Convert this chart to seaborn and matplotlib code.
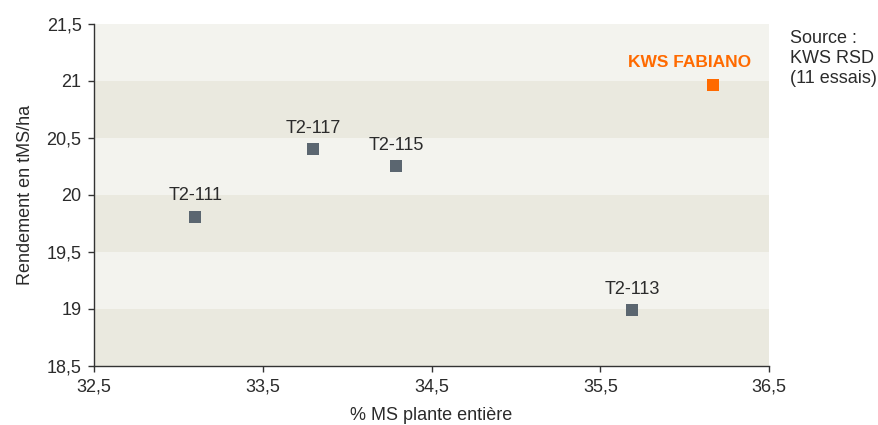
import seaborn as sns
import matplotlib.pyplot as plt
import matplotlib.ticker as mticker
import pandas as pd

# data
varietes = ["T2-111", "T2-117", "T2-115", "T2-113", "KWS FABIANO"]
ms_plante = [33.10, 33.80, 34.29, 35.69, 36.17]
rendement = [19.81, 20.40, 20.25, 18.99, 20.96]
groupe = ["test", "test", "test", "test", "kws"]

df = pd.DataFrame({"variete": varietes, "ms": ms_plante, "rdt": rendement, "groupe": groupe})

sns.set_style("white")
plt.rcParams["font.family"] = ["Liberation Sans", "DejaVu Sans"]

gris = "#5b6670"
orange = "#ff6a00"
texte = "#2b2b2b"

fig = plt.figure(figsize=(8.79, 4.25), dpi=100)
ax = fig.add_axes([0.107, 0.139, 0.768, 0.805])

# alternating horizontal bands
for i, y0 in enumerate([18.5, 19.0, 19.5, 20.0, 20.5, 21.0]):
    ax.axhspan(y0, y0 + 0.5, color="#eae9df" if i % 2 == 0 else "#f3f3ee", lw=0, zorder=0)

sns.scatterplot(data=df, x="ms", y="rdt", hue="groupe", palette={"test": gris, "kws": orange},
                marker="s", s=75, linewidth=0, legend=False, ax=ax, zorder=3)

for _, r in df.iterrows():
    if r["groupe"] == "kws":
        ax.annotate(r["variete"], (r["ms"], r["rdt"]), xytext=(-17, 11), textcoords="offset points",
                    ha="center", va="bottom", fontsize=12.5, color=orange, fontweight="bold")
    else:
        ax.annotate(r["variete"], (r["ms"], r["rdt"]), xytext=(0, 9), textcoords="offset points",
                    ha="center", va="bottom", fontsize=13, color=texte)

ax.set_xlim(32.5, 36.5)
ax.set_ylim(18.5, 21.5)
ax.set_xticks([32.5, 33.5, 34.5, 35.5, 36.5])
ax.set_yticks([18.5, 19, 19.5, 20, 20.5, 21, 21.5])
fmt = mticker.FuncFormatter(lambda v, p: ("%g" % v).replace(".", ","))
ax.xaxis.set_major_formatter(fmt)
ax.yaxis.set_major_formatter(fmt)
ax.tick_params(axis="both", direction="out", length=4, width=1, color="#333333",
               labelsize=13, labelcolor=texte, bottom=True, left=True, pad=5)

for s in ["top", "right"]:
    ax.spines[s].set_visible(False)
for s in ["left", "bottom"]:
    ax.spines[s].set_color("#333333")
    ax.spines[s].set_linewidth(1)

ax.set_xlabel("% MS plante entière", fontsize=13, color=texte, labelpad=8)
ax.set_ylabel("Rendement en tMS/ha", fontsize=13, color=texte, labelpad=9)

fig.text(0.899, 0.93, "Source :\nKWS RSD\n(11 essais)", ha="left", va="top",
         fontsize=13, color=texte, linespacing=1.25)

fig.savefig("out.png", dpi=100)
